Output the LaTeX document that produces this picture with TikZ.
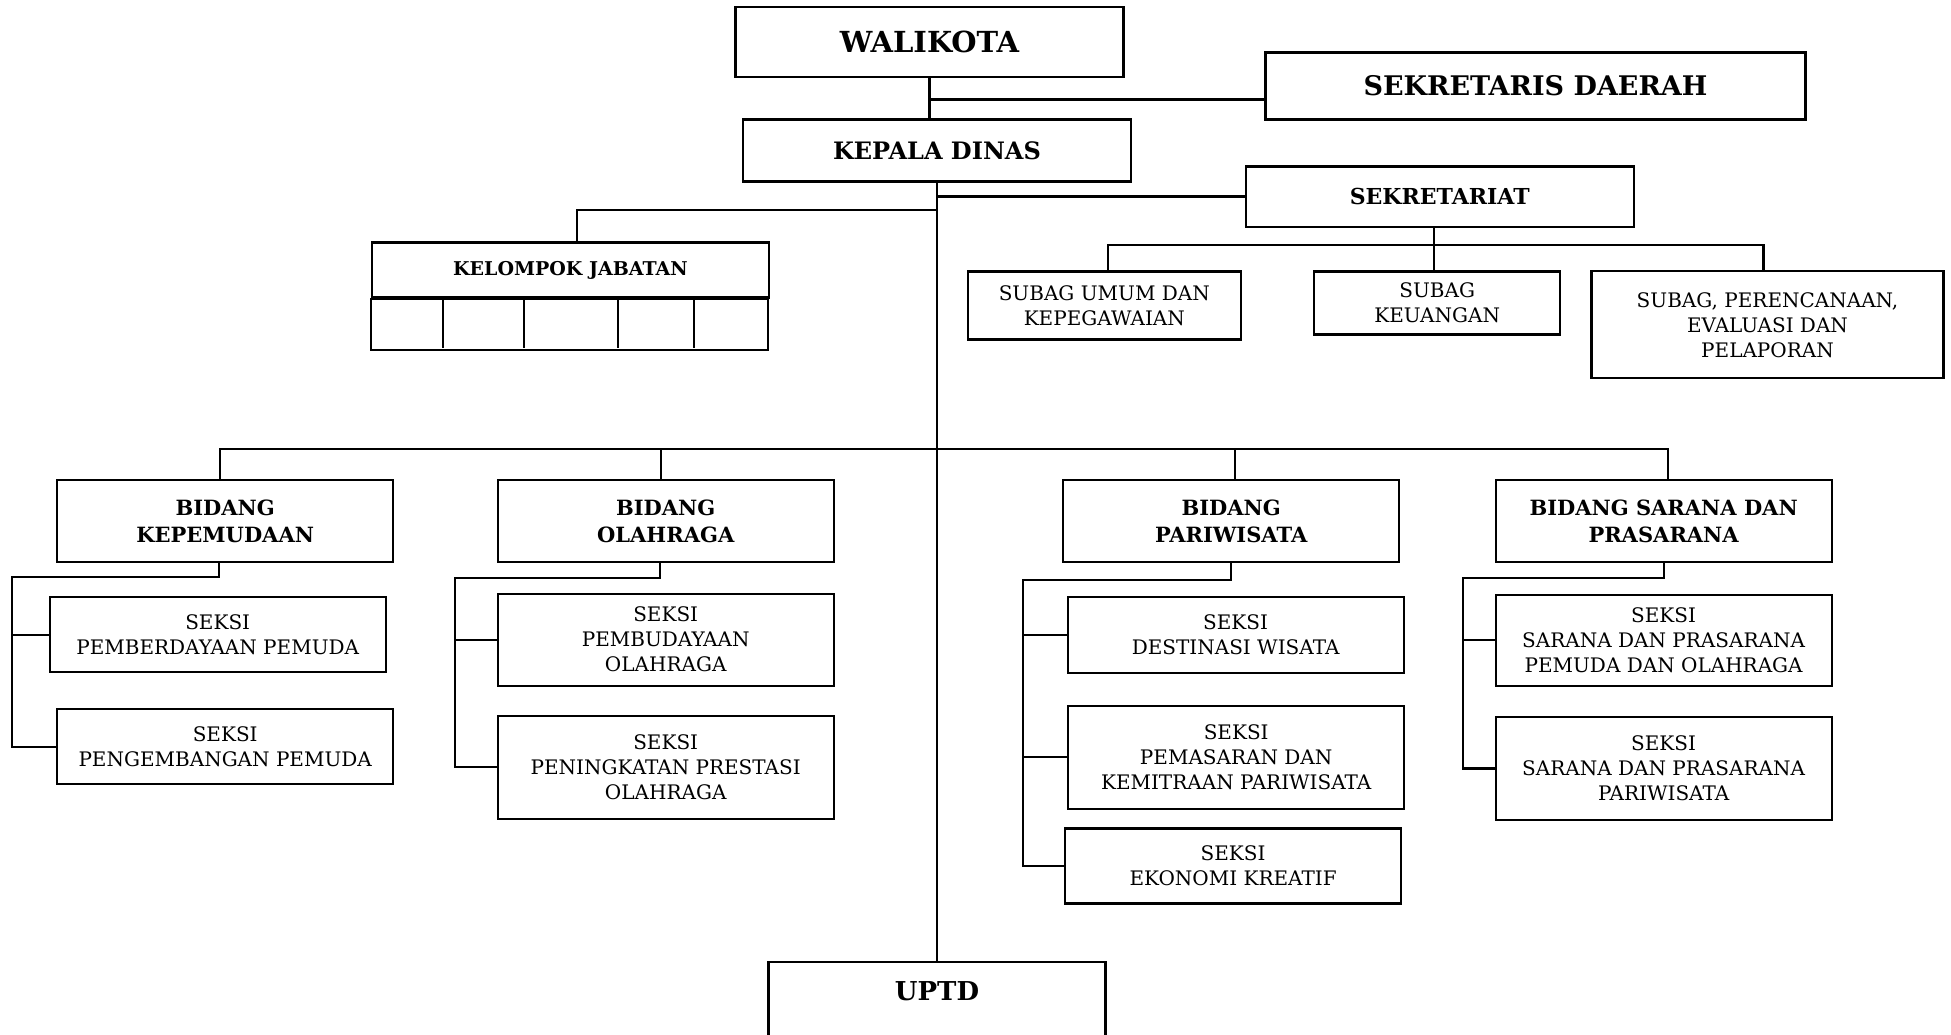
\documentclass[tikz,border=0pt]{standalone}
\usepackage{fontspec}
\setmainfont{DejaVu Serif}
\usetikzlibrary{positioning}
\newcommand{\fsz}[2]{\fontsize{#1}{#2}\selectfont}

\begin{document}
\begin{tikzpicture}[x=1pt, y=-1pt, line width=2.2pt,
    every node/.style={font=\fsz{20}{25}},
    box/.style={draw, align=center, inner sep=0pt},
    head/.style={box, minimum width=336, minimum height=82, font=\bfseries\fsz{21}{27}},
    seksi/.style={box, minimum width=336}]
    \useasboundingbox (0,0) rectangle (1951,1035);

    % pimpinan
    \node[box, minimum width=388, minimum height=70, font=\bfseries\fsz{29}{35}] (walikota) at (929.5,42) {WALIKOTA};
    \node[box, minimum width=540, minimum height=67, font=\bfseries\fsz{27}{33}] (sekda) at (1535.5,86) {SEKRETARIS DAERAH};
    \node[box, minimum width=388, minimum height=62, font=\bfseries\fsz{24}{30}] (kepala) at (937,150.6) {KEPALA DINAS};
    \node[box, minimum width=388, minimum height=60, font=\bfseries\fsz{22}{27}] (sekretariat) at (1439.7,196.6) {SEKRETARIAT};
    \node[box, minimum width=397, minimum height=55, font=\bfseries\fsz{19}{24}] (kj) at (570.5,270) {KELOMPOK JABATAN};
    \draw (kj.south west) rectangle ++(397,51);
    \foreach \x in {443,524,618,694} \draw (\x,297.4) -- (\x,348.4);

    % subbagian
    \node[box, minimum width=273, minimum height=68] (umum) at (1104.3,305.5) {SUBAG UMUM DAN\\KEPEGAWAIAN};
    \node[box, minimum width=246, minimum height=63] (keuangan) at (1437.2,303) {SUBAG\\KEUANGAN};
    \node[box, minimum width=352, minimum height=107] (perencanaan) at (1767.5,324.8) {SUBAG, PERENCANAAN,\\EVALUASI DAN\\PELAPORAN};

    % bidang
    \node[head] (kepemudaan) at (225.2,521.3) {BIDANG\\KEPEMUDAAN};
    \node[head] (olahraga) at (665.7,521.3) {BIDANG\\OLAHRAGA};
    \node[head] (pariwisata) at (1231.2,521.3) {BIDANG\\PARIWISATA};
    \node[head] (sarana) at (1663.6,521.3) {BIDANG SARANA DAN\\PRASARANA};

    % seksi
    \node[seksi, minimum height=75] (pemberdayaan) at (217.7,634.6) {SEKSI\\PEMBERDAYAAN PEMUDA};
    \node[seksi, minimum height=75] (pengembangan) at (225.2,746.6) {SEKSI\\PENGEMBANGAN PEMUDA};
    \node[seksi, minimum height=92] (pembudayaan) at (665.7,639.6) {SEKSI\\PEMBUDAYAAN\\OLAHRAGA};
    \node[seksi, minimum height=103] (prestasi) at (665.7,767.1) {SEKSI\\PENINGKATAN PRESTASI\\OLAHRAGA};
    \node[seksi, minimum height=76] (destinasi) at (1235.6,635.2) {SEKSI\\DESTINASI WISATA};
    \node[seksi, minimum height=103] (pemasaran) at (1236.2,757.2) {SEKSI\\PEMASARAN DAN\\KEMITRAAN PARIWISATA};
    \node[seksi, minimum height=75] (ekonomi) at (1233.1,866) {SEKSI\\EKONOMI KREATIF};
    \node[seksi, minimum height=91] (spemuda) at (1663.6,640.2) {SEKSI\\SARANA DAN PRASARANA\\PEMUDA DAN OLAHRAGA};
    \node[seksi, minimum height=103] (swisata) at (1663.6,768.4) {SEKSI\\SARANA DAN PRASARANA\\PARIWISATA};

    \node[box, anchor=north, minimum width=337, text height=39, text depth=46, font=\bfseries\fsz{26}{32}] (uptd) at (937,960.6) {UPTD};

    % garis
    \coordinate (wk) at (929.5,99.5);
    \coordinate (kjL) at (577,210);
    \coordinate (sb) at (0,245);
    \coordinate (bd) at (0,449);
    \coordinate (kpL) at (12,577);
    \coordinate (olL) at (455,578);
    \coordinate (pwL) at (1023,580);
    \coordinate (srL) at (1463,578);

    \draw (walikota.south) -- (walikota.south |- kepala.north);
    \draw (wk) -- (wk -| sekda.west);
    \draw (kepala.south) -- (uptd.north);
    \draw (kepala.south |- sekretariat.west) -- (sekretariat.west);
    \draw (kepala.south |- kjL) -- (kjL) -- (kjL |- kj.north);
    \draw ([xshift=-6]sekretariat.south) -- ([xshift=-6]sekretariat.south |- keuangan.north);
    \draw ([xshift=4]umum.north) |- ([xshift=-4]perencanaan.north |- sb) -- ([xshift=-4]perencanaan.north);
    \draw ([xshift=-5]kepemudaan.north) |- ([xshift=4]sarana.north |- bd) -- ([xshift=4]sarana.north);
    \draw ([xshift=-5]olahraga.north) -- ([xshift=-5]olahraga.north |- bd);
    \draw ([xshift=4]pariwisata.north) -- ([xshift=4]pariwisata.north |- bd);

    \draw ([xshift=-6]kepemudaan.south) |- (kpL) |- (pemberdayaan.west);
    \draw (kpL) |- (pengembangan.west);
    \draw ([xshift=-6]olahraga.south) |- (olL) |- (pembudayaan.west);
    \draw (olL) |- (prestasi.west);
    \draw (pariwisata.south) |- (pwL) |- (destinasi.west);
    \draw (pwL) |- (pemasaran.west);
    \draw (pwL) |- (ekonomi.west);
    \draw (sarana.south) |- (srL) |- (spemuda.west);
    \draw (srL) |- (swisata.west);
\end{tikzpicture}
\end{document}
